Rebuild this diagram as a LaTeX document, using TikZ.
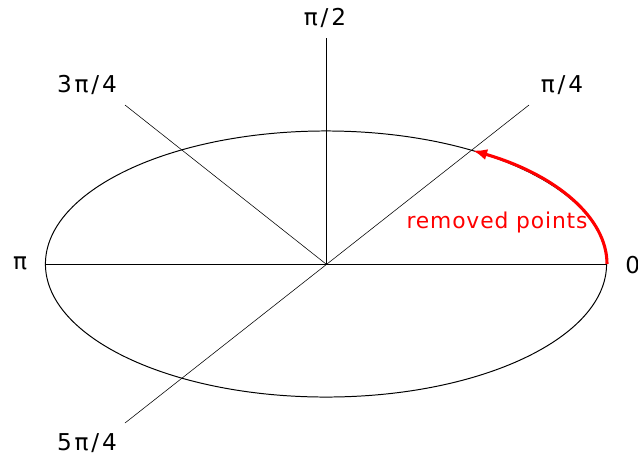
\documentclass[tikz,border=0pt]{standalone}
\usepackage{fontspec}
\newfontfamily\anglefont[LetterSpace=12]{DejaVu Sans}
\newfontfamily\notefont[LetterSpace=4]{DejaVu Sans}
\usepackage{tikz}
\usetikzlibrary{arrows.meta}

\begin{document}
\begin{tikzpicture}[x=0.025cm, y=-0.025cm,
  axis/.style={draw=black, line width=0.4pt},
  curve/.style={draw=black, line width=0.7pt},
  lbl/.style={font=\anglefont\fontsize{16.5pt}{18pt}\selectfont, anchor=base, inner sep=0pt},
  note/.style={font=\notefont\fontsize{15.5pt}{18pt}\selectfont, text=red, anchor=base, inner sep=0pt},
  removed/.style={draw=red, line width=2.2pt, -{Latex[length=10pt,width=8pt]}},
]
\useasboundingbox (0,0) rectangle (638,456);

% Centre and line ends
\coordinate (O) at (326,264);
\coordinate (E) at (607,264);
\coordinate (W) at (46,264);
\coordinate (N) at (326,38);
\coordinate (NE) at (529,105);
\coordinate (NW) at (125,105);
\coordinate (SW) at (125,423);

% Axes
\draw[axis] (W) -- (E);
\draw[axis] (O) -- (N);
\draw[axis] (SW) -- (NE);
\draw[axis] (O) -- (NW);

% Ellipse
\draw[curve] (O) ellipse [x radius=7.0125cm, y radius=3.325cm];

% Removed arc
\draw[removed] (E) arc [start angle=0, end angle=58.5, x radius=7.0125cm, y radius=3.325cm];
\node[note] (rp) at (497,228) {removed points};

% Angle labels
\node[lbl] (l0) at (625,273) [anchor=base west] {0};
\node[lbl] (lq) at (562,92) {π/4};
\node[lbl] (lh) at (325,25) {π/2};
\node[lbl] (lt) at (87,92) {3π/4};
\node[lbl] (lp) at (20,269) {π};
\node[lbl] (lf) at (87,450) {5π/4};
\end{tikzpicture}
\end{document}
